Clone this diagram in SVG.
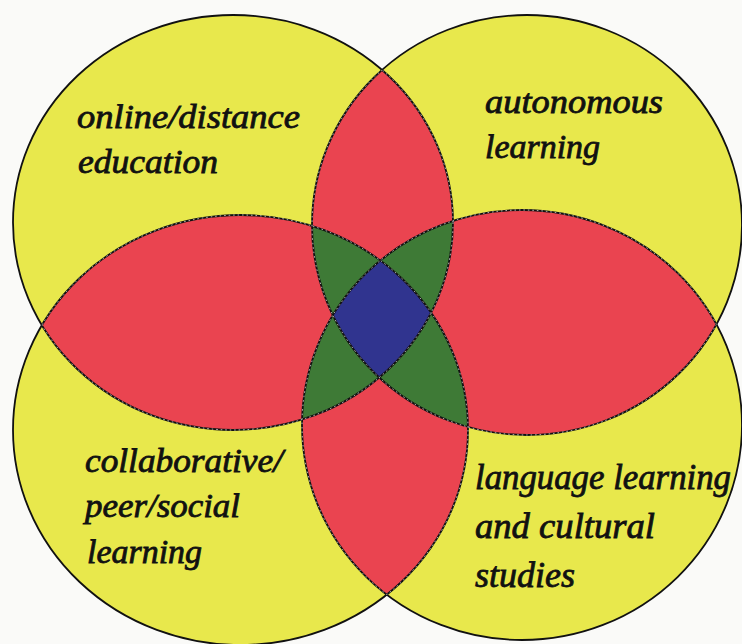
<svg xmlns="http://www.w3.org/2000/svg" width="742" height="644" viewBox="0 0 742 644">
<style>
.y{fill:#e8e84c}
.r{fill:#ea4450}
.g{fill:#3e7a36}
.b{fill:#30348f}
.o{fill:none;stroke:#111;stroke-width:1.8}
.d{fill:none;stroke:#fff;stroke-width:1;stroke-dasharray:1.5 3;opacity:.75}
.t{font-family:"Liberation Serif","Times New Roman",serif;font-style:italic;font-size:33px;fill:#111;stroke:#111;stroke-width:0.8}
.big{font-size:35px}
</style>
<defs>
<ellipse id="eTL" cx="233" cy="222.5" rx="220" ry="207.5"/>
<ellipse id="eTR" cx="527" cy="225" rx="215" ry="210"/>
<ellipse id="eBL" cx="240.5" cy="430" rx="227.5" ry="215"/>
<ellipse id="eBR" cx="522" cy="425" rx="220" ry="215"/>
<clipPath id="cTL"><ellipse cx="233" cy="222.5" rx="220" ry="207.5"/></clipPath>
<clipPath id="cTR"><ellipse cx="527" cy="225" rx="215" ry="210"/></clipPath>
<clipPath id="cBL"><ellipse cx="240.5" cy="430" rx="227.5" ry="215"/></clipPath>
<clipPath id="cBR"><ellipse cx="522" cy="425" rx="220" ry="215"/></clipPath>
<clipPath id="oTL"><ellipse cx="527" cy="225" rx="215" ry="210"/><ellipse cx="240.5" cy="430" rx="227.5" ry="215"/><ellipse cx="522" cy="425" rx="220" ry="215"/></clipPath>
<clipPath id="oTR"><ellipse cx="233" cy="222.5" rx="220" ry="207.5"/><ellipse cx="240.5" cy="430" rx="227.5" ry="215"/><ellipse cx="522" cy="425" rx="220" ry="215"/></clipPath>
<clipPath id="oBL"><ellipse cx="233" cy="222.5" rx="220" ry="207.5"/><ellipse cx="527" cy="225" rx="215" ry="210"/><ellipse cx="522" cy="425" rx="220" ry="215"/></clipPath>
<clipPath id="oBR"><ellipse cx="233" cy="222.5" rx="220" ry="207.5"/><ellipse cx="527" cy="225" rx="215" ry="210"/><ellipse cx="240.5" cy="430" rx="227.5" ry="215"/></clipPath>
</defs>
<rect width="742" height="644" fill="#fafaf8"/>
<g id="online-distance-education">
<use href="#eTL" class="y"/>
<text class="t"><tspan x="77" y="128" textLength="223" lengthAdjust="spacingAndGlyphs">online/distance</tspan><tspan x="78" y="173" textLength="140" lengthAdjust="spacingAndGlyphs">education</tspan></text>
</g>
<g id="autonomous-learning">
<use href="#eTR" class="y"/>
<text class="t"><tspan x="485" y="113" textLength="178" lengthAdjust="spacingAndGlyphs">autonomous</tspan><tspan x="485" y="158" textLength="115" lengthAdjust="spacingAndGlyphs">learning</tspan></text>
</g>
<g id="collaborative-peer-social-learning">
<use href="#eBL" class="y"/>
<text class="t"><tspan x="85" y="472" textLength="198" lengthAdjust="spacingAndGlyphs">collaborative/</tspan><tspan x="85" y="517" textLength="155" lengthAdjust="spacingAndGlyphs">peer/social</tspan><tspan x="87" y="563" textLength="115" lengthAdjust="spacingAndGlyphs">learning</tspan></text>
</g>
<g id="language-learning-cultural-studies">
<use href="#eBR" class="y"/>
<text class="t big"><tspan x="475" y="489" textLength="256" lengthAdjust="spacingAndGlyphs">language learning</tspan><tspan x="475" y="538" textLength="180" lengthAdjust="spacingAndGlyphs">and cultural</tspan><tspan x="475" y="587" textLength="100" lengthAdjust="spacingAndGlyphs">studies</tspan></text>
</g>
<g id="overlaps">
<g clip-path="url(#cTL)"><use href="#eTR" class="r"/><use href="#eBL" class="r"/></g>
<g clip-path="url(#cBR)"><use href="#eTR" class="r"/><use href="#eBL" class="r"/></g>
<g clip-path="url(#cTL)"><g clip-path="url(#cTR)"><use href="#eBL" class="g"/><use href="#eBR" class="g"/></g></g>
<g clip-path="url(#cBL)"><g clip-path="url(#cBR)"><use href="#eTL" class="g"/><use href="#eTR" class="g"/></g></g>
<g clip-path="url(#cTL)"><g clip-path="url(#cTR)"><g clip-path="url(#cBL)"><use href="#eBR" class="b"/></g></g></g>
</g>
<g id="connectors">
<use href="#eTL" class="o"/>
<use href="#eTR" class="o"/>
<use href="#eBL" class="o"/>
<use href="#eBR" class="o"/>
<g clip-path="url(#oTL)"><use href="#eTL" class="d"/></g>
<g clip-path="url(#oTR)"><use href="#eTR" class="d"/></g>
<g clip-path="url(#oBL)"><use href="#eBL" class="d"/></g>
<g clip-path="url(#oBR)"><use href="#eBR" class="d"/></g>
</g>
</svg>
